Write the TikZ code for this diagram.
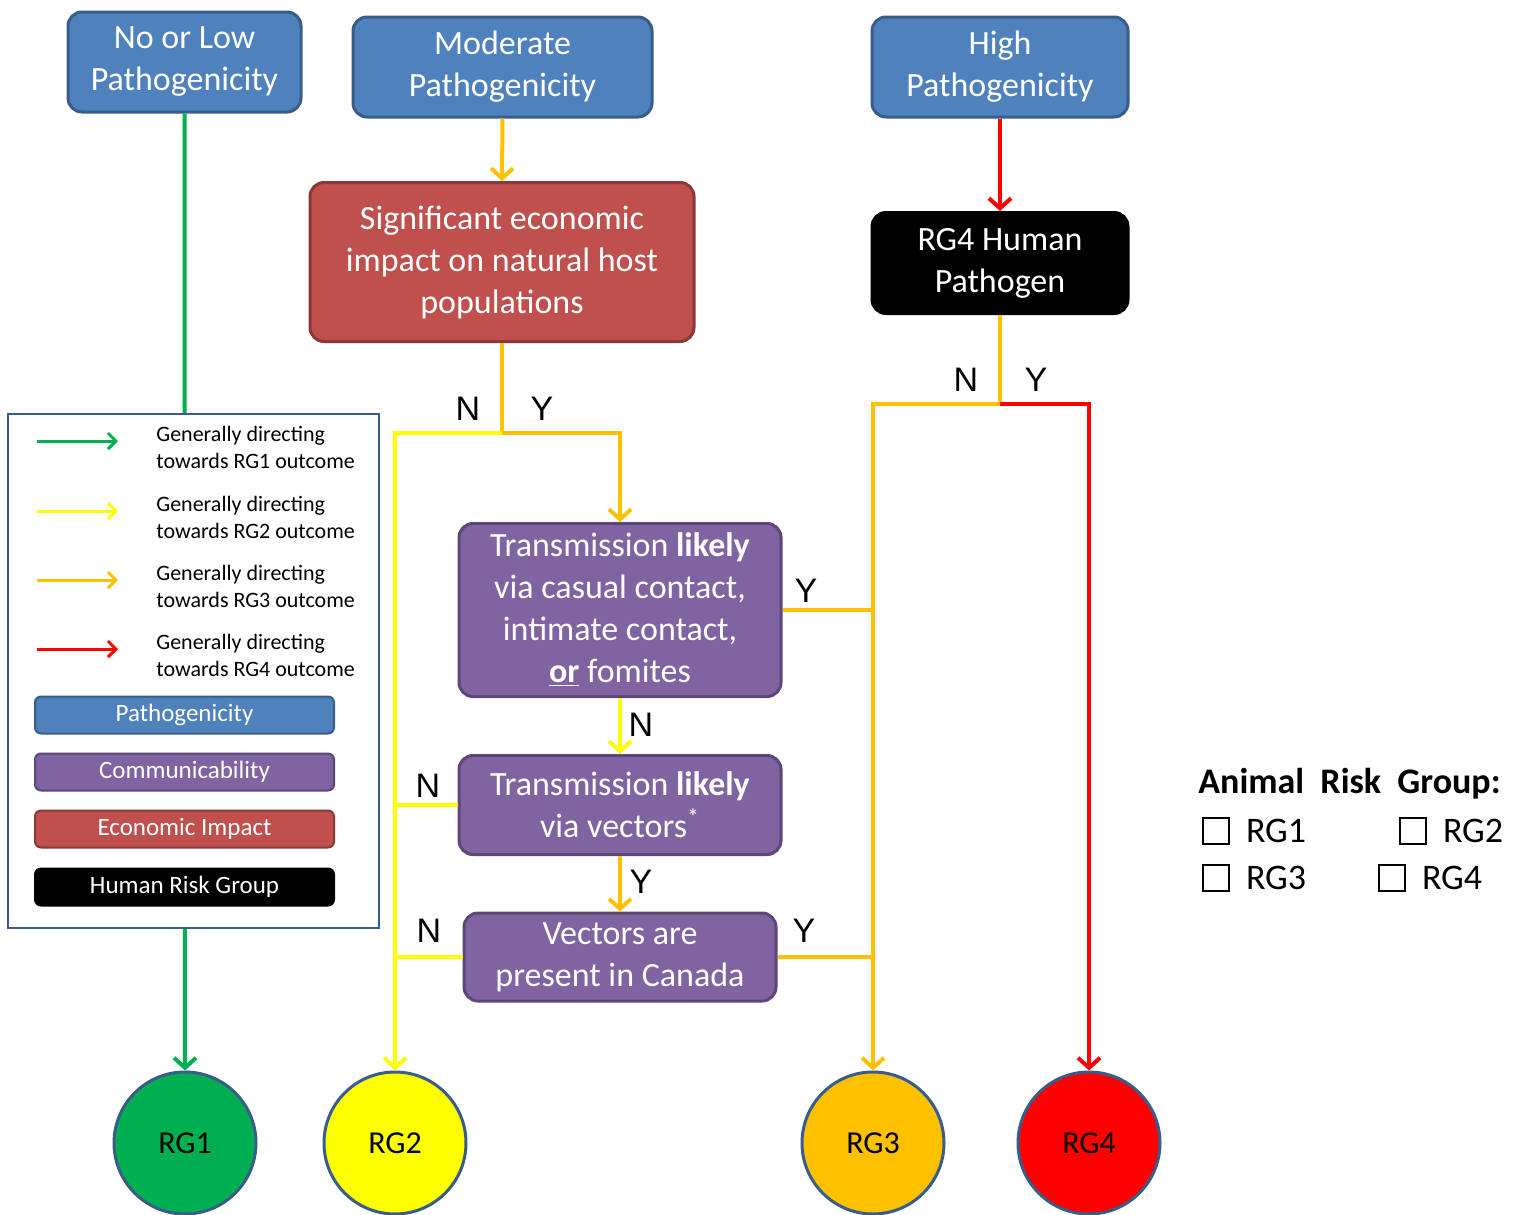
\documentclass[tikz,border=0pt]{standalone}
\usepackage{fontspec}
\setmainfont{Carlito}
\newfontfamily\ynfont{Liberation Sans}
\usetikzlibrary{arrows.meta,positioning,calc}
\definecolor{pathblue}{RGB}{79,129,189}
\definecolor{pathborder}{RGB}{56,93,138}
\definecolor{commpurple}{RGB}{128,100,162}
\definecolor{commborder}{RGB}{92,71,118}
\definecolor{econred}{RGB}{192,80,77}
\definecolor{econborder}{RGB}{140,56,54}
\definecolor{rgone}{RGB}{0,176,80}
\definecolor{rgtwo}{RGB}{255,255,0}
\definecolor{rgthree}{RGB}{255,192,0}
\definecolor{rgfour}{RGB}{255,0,0}

\begin{document}
\begin{tikzpicture}[
    x=0.5pt, y=-0.5pt,
    box/.style={rectangle, draw, line width=1.5pt, rounded corners=7pt, align=center, text=white, inner sep=0pt, font=\fontsize{17}{21}\selectfont},
    patho/.style={box, fill=pathblue, draw=pathborder},
    commu/.style={box, fill=commpurple, draw=commborder},
    ecobox/.style={box, fill=econred, draw=econborder},
    hrgbox/.style={box, fill=black, draw=black},
    key/.style={rectangle, draw, line width=1pt, rounded corners=3pt, minimum width=149.5pt, minimum height=18.5pt, inner sep=0pt, text=white, font=\fontsize{12.5}{15}\selectfont},
    outcome/.style={circle, draw=pathborder, line width=1.5pt, minimum size=71pt, inner sep=0pt, font=\fontsize{16}{19}\selectfont},
    flow/.style={line width=2pt},
    arrow/.style={flow, -{Straight Barb[length=5pt,width=11pt]}},
    yn/.style={font=\ynfont\fontsize{17}{20}\selectfont},
    keytext/.style={anchor=west, align=left, inner sep=0pt, font=\fontsize{11}{13.5}\selectfont},
    chk/.style={rectangle, draw, line width=0.6pt, minimum size=13pt, inner sep=0pt},
    rglabel/.style={inner sep=0pt, font=\fontsize{18}{22}\selectfont}
]
\useasboundingbox (0,0) rectangle (1523,1215);

% Pathogenicity
\node[patho, minimum width=116.5pt, minimum height=50pt] (nolow) at (184.5,62) {No or Low\\Pathogenicity};
\node[patho, minimum width=149.5pt, minimum height=50pt] (moderate) at (502.5,67) {Moderate\\Pathogenicity};
\node[patho, minimum width=128pt, minimum height=50pt] (high) at (1000,67) {High\\Pathogenicity};

% Economic impact and human risk group
\node[ecobox, minimum width=192pt, minimum height=79.5pt] (econ) at (502,262) {Significant economic\\impact on natural host\\populations};
\node[hrgbox, minimum width=128pt, minimum height=50.5pt] (human) at (1000,263) {RG4 Human\\Pathogen};

% Communicability
\node[commu, minimum width=161pt, minimum height=86.5pt] (casual) at (620,610) {Transmission \textbf{likely}\\via casual contact,\\intimate contact,\\\underline{\textbf{or}} fomites};
\node[commu, minimum width=161pt, minimum height=49.5pt] (vectors) at (620,805) {Transmission \textbf{likely}\\via vectors\textsuperscript{*}};
\node[commu, minimum width=156pt, minimum height=44pt] (canada) at (620,957) {Vectors are\\present in Canada};

% Outcomes
\node[outcome, fill=rgone] (rg1) at (185,1143) {RG1};
\node[outcome, fill=rgtwo] (rg2) at (395,1143) {RG2};
\node[outcome, fill=rgthree] (rg3) at (873,1143) {RG3};
\node[outcome, fill=rgfour] (rg4) at (1089,1143) {RG4};

% Junctions
\coordinate (econsplit) at (502,433);
\coordinate (humansplit) at (1000,404);

% Connectors
\draw[arrow, rgone] (nolow.south) -- (rg1.north);
\draw[arrow, rgthree] (moderate.south) -- (econ.north);
\draw[arrow, rgfour] (high.south) -- (human.north);

\draw[flow, rgthree] (econ.south) -- (econsplit);
\draw[arrow, rgtwo] (econsplit) -| (rg2.north);
\draw[arrow, rgthree] (econsplit) -| (casual.north);
\node[yn] at (468,409) {N};
\node[yn] at (542,409) {Y};

\draw[arrow, rgtwo] (casual.south) -- (vectors.north);
\node[yn] at (641,725) {N};
\draw[flow, rgthree] (casual.east) -- (casual.east -| rg3.north);
\node[yn] at (806,591) {Y};

\draw[arrow, rgthree] (vectors.south) -- (canada.north);
\node[yn] at (641,882) {Y};
\draw[flow, rgtwo] (vectors.west) -- (vectors.west -| rg2.north);
\node[yn] at (428,786) {N};

\draw[flow, rgtwo] (canada.west) -- (canada.west -| rg2.north);
\node[yn] at (429,931) {N};
\draw[flow, rgthree] (canada.east) -- (canada.east -| rg3.north);
\node[yn] at (804,931) {Y};

\draw[flow, rgthree] (human.south) -- (humansplit);
\draw[arrow, rgthree] (humansplit) -| (rg3.north);
\draw[arrow, rgfour] (humansplit) -| (rg4.north);
\node[yn] at (966,380) {N};
\node[yn] at (1036,380) {Y};

% Legend
\node[draw=pathborder, line width=1pt, fill=white, minimum width=185.5pt, minimum height=257pt, inner sep=0pt] (legend) at (193.5,671) {};
\foreach \c/\y/\n in {rgone/441/1, rgtwo/511/2, rgthree/580/3, rgfour/649/4} {
    \coordinate (keystart\n) at (37,\y);
    \coordinate (keyend\n) at (118,\y);
    \draw[\c, line width=1.5pt, -{Straight Barb[length=4pt,width=8pt]}] (keystart\n) -- (keyend\n);
    \node[keytext] (keytext\n) at (156,\y+6) {Generally directing\\towards RG\n\ outcome};
}
\node[key, fill=pathblue, draw=pathborder] (keypatho) at (184.5,715) {Pathogenicity};
\node[key, fill=commpurple, draw=commborder] (keycommu) at (184.5,772) {Communicability};
\node[key, fill=econred, draw=econborder] (keyecon) at (184.5,829) {Economic Impact};
\node[key, fill=black, draw=black] (keyhuman) at (184.5,887) {Human Risk Group};

% Animal risk group
\node[anchor=west, inner sep=0pt, font=\bfseries\fontsize{18}{22}\selectfont] (argtitle) at (1198,784) {Animal\hspace{0.45em}Risk\hspace{0.45em}Group:};
\node[chk] (chkone) at (1216,831) {};
\node[rglabel, right=8pt of chkone] (lblone) {RG1};
\node[chk] (chktwo) at (1413,831) {};
\node[rglabel, right=8pt of chktwo] (lbltwo) {RG2};
\node[chk] (chkthree) at (1216,878) {};
\node[rglabel, right=8pt of chkthree] (lblthree) {RG3};
\node[chk] (chkfour) at (1392,878) {};
\node[rglabel, right=8pt of chkfour] (lblfour) {RG4};

\end{tikzpicture}
\end{document}
